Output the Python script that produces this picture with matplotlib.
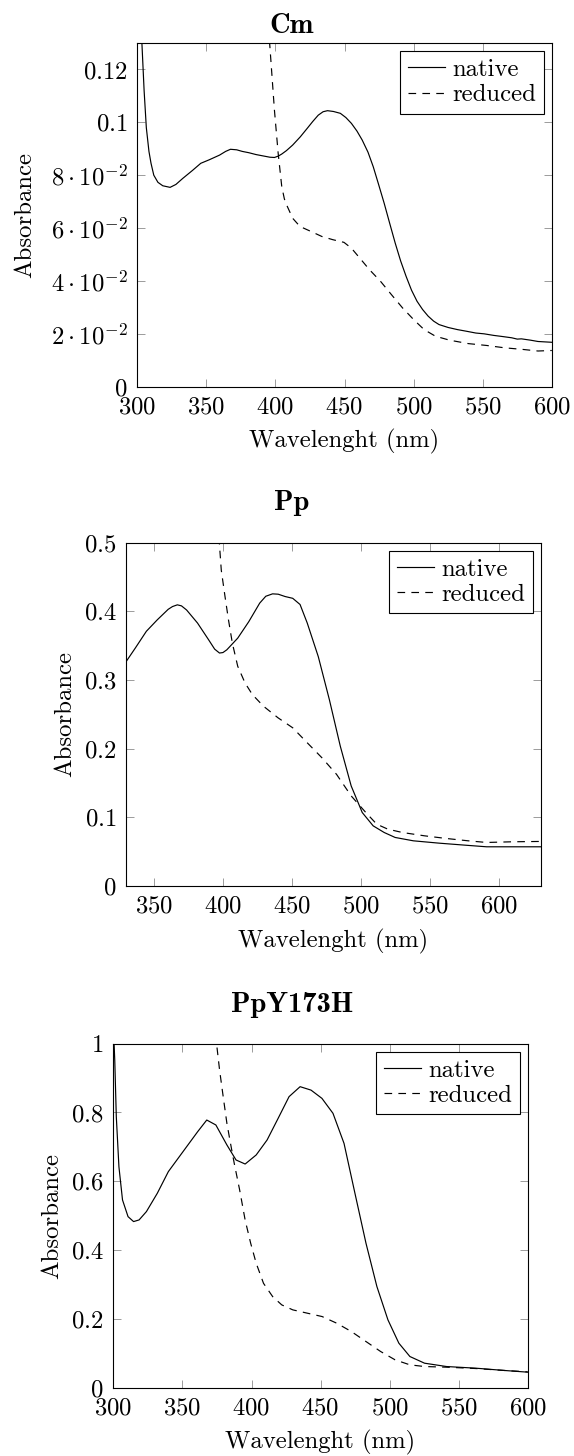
import matplotlib
matplotlib.use("Agg")
import matplotlib.pyplot as plt

plt.rcParams["font.family"] = "cmr10"
plt.rcParams["mathtext.fontset"] = "cm"
plt.rcParams["axes.formatter.use_mathtext"] = True
plt.rcParams["lines.scale_dashes"] = False

# ---- Cm ----
cm_native_wl = [300, 302, 303.4, 305, 306.6, 308.5, 310, 312, 315, 318.5, 323.8, 328, 333,
                340, 346, 352, 359.6, 364, 367.5, 372, 376, 380.8, 386, 391, 396, 399.3,
                402, 404.6, 408, 412.5, 418, 423, 427, 431, 434.5, 437.7, 442, 447, 451,
                455, 459, 462.8, 467, 470.8, 474.5, 478.7, 482.7, 486.7, 490.6, 494.6,
                498.5, 502.5, 506.5, 510.5, 514.5, 518.4, 525, 531.7, 538, 545, 551, 558,
                564, 571, 575, 578, 584.6, 590, 600]
cm_native_abs = [0.200, 0.150, 0.130, 0.112, 0.098, 0.089, 0.0845, 0.0800, 0.0773, 0.0760,
                 0.0754, 0.0765, 0.0788, 0.0818, 0.0845, 0.0858, 0.0876, 0.0890, 0.0898,
                 0.0896, 0.0890, 0.0885, 0.0878, 0.0873, 0.0868, 0.0867, 0.0872, 0.0880,
                 0.0893, 0.0914, 0.0945, 0.0977, 0.1003, 0.1027, 0.1040, 0.1044, 0.1041,
                 0.1034, 0.1018, 0.0996, 0.0967, 0.0933, 0.0887, 0.0832, 0.0768, 0.0694,
                 0.0618, 0.0543, 0.0476, 0.0417, 0.0365, 0.0323, 0.0292, 0.0267, 0.0248,
                 0.0235, 0.0224, 0.0216, 0.0210, 0.0203, 0.0200, 0.0194, 0.0190, 0.0185,
                 0.0180, 0.0181, 0.0176, 0.0171, 0.0168]
cm_reduced_wl = [390, 393, 396.1, 399.3, 402, 404.6, 406.5, 408.6, 412.5, 417.8, 425.8,
                 433.7, 441.6, 449.6, 455, 460, 468, 476, 484, 492, 500, 507.6, 515.8,
                 526, 539.6, 552.8, 566, 579, 590, 600]
cm_reduced_abs = [0.180, 0.150, 0.128, 0.1046, 0.0883, 0.0757, 0.0710, 0.0682, 0.0637,
                  0.0606, 0.0587, 0.0568, 0.0556, 0.0546, 0.0524, 0.0493, 0.0443, 0.0399,
                  0.0348, 0.0298, 0.0254, 0.0216, 0.0191, 0.0176, 0.0163, 0.0156, 0.0147,
                  0.0141, 0.0135, 0.0137]
cm_yticks = [0, 0.02, 0.04, 0.06, 0.08, 0.1, 0.12]
cm_yticklabels = [r"$0$", r"$2\cdot10^{-2}$", r"$4\cdot10^{-2}$", r"$6\cdot10^{-2}$",
                  r"$8\cdot10^{-2}$", r"$0.1$", r"$0.12$"]

# ---- Pp ----
pp_native_wl = [330, 336.6, 344.6, 352.5, 360.4, 363.5, 367, 370, 373.7, 381.6, 389.6,
                394, 397.5, 400, 402.8, 410.7, 418.7, 426.6, 431, 435.9, 440, 445, 450.5,
                455.8, 461, 469, 477, 484.9, 492.8, 500.8, 508.7, 516.7, 524.6, 537.8,
                556.4, 575, 590.8, 609, 630]
pp_native_abs = [0.327, 0.3466, 0.371, 0.3877, 0.403, 0.407, 0.4095, 0.408, 0.402, 0.383,
                 0.3587, 0.345, 0.3393, 0.340, 0.344, 0.361, 0.385, 0.412, 0.422, 0.4255,
                 0.425, 0.4216, 0.419, 0.410, 0.383, 0.334, 0.2715, 0.2038, 0.1457, 0.107,
                 0.0876, 0.0779, 0.0707, 0.0658, 0.0624, 0.0595, 0.0571, 0.0571, 0.0571]
pp_reduced_wl = [394, 397.5, 398.8, 401.5, 404, 406.8, 410.7, 416, 421.3, 429.3, 439.9,
                 450.5, 461, 471.6, 482.2, 492.8, 503.4, 511.3, 519.3, 529.9, 545.8,
                 561.7, 577.5, 590.8, 609.3, 630]
pp_reduced_abs = [0.65, 0.4966, 0.46, 0.4216, 0.3877, 0.3538, 0.320, 0.2957, 0.2788,
                  0.2619, 0.2449, 0.2304, 0.2086, 0.1868, 0.1626, 0.1312, 0.107, 0.090,
                  0.0828, 0.0779, 0.0731, 0.0692, 0.0658, 0.0634, 0.0644, 0.0649]
pp_yticks = [0, 0.1, 0.2, 0.3, 0.4, 0.5]
pp_yticklabels = [r"$0$", r"$0.1$", r"$0.2$", r"$0.3$", r"$0.4$", r"$0.5$"]

# ---- PpY173H ----
y173_native_wl = [300, 301, 302.1, 304, 306.6, 310.6, 314.6, 318.6, 323.9, 331.8, 339.8,
                  350.4, 361, 367.6, 374.2, 382.2, 388.8, 395.4, 403.4, 411.3, 419.3,
                  427.2, 435.2, 443.1, 451, 459, 467, 474.9, 482.9, 490.8, 498.8, 506.7,
                  514.7, 525.3, 541.2, 562.4, 583.6, 600]
y173_native_abs = [1.05, 0.95, 0.788, 0.642, 0.5455, 0.497, 0.4826, 0.4874, 0.5116, 0.565,
                   0.628, 0.686, 0.744, 0.778, 0.7636, 0.7054, 0.6618, 0.650, 0.6764, 0.720,
                   0.783, 0.846, 0.875, 0.865, 0.841, 0.7975, 0.710, 0.565, 0.4196, 0.2936,
                   0.1967, 0.1289, 0.0901, 0.0707, 0.061, 0.0562, 0.0494, 0.0446]
y173_reduced_wl = [372, 374.7, 376.9, 379.5, 382.2, 384.8, 387.5, 391.4, 395.4, 399.4,
                   403.4, 408.7, 415.3, 421.9, 429.9, 440.5, 451.1, 461.7, 472.3, 482.9,
                   493.5, 504, 514.7, 525.3, 541.2, 562.4, 583.6, 600]
y173_reduced_abs = [1.15, 1.0, 0.923, 0.846, 0.768, 0.710, 0.652, 0.575, 0.487, 0.4196,
                    0.3614, 0.303, 0.2645, 0.2403, 0.2258, 0.2161, 0.2064, 0.187, 0.1628,
                    0.1337, 0.1047, 0.0804, 0.0659, 0.061, 0.0591, 0.0552, 0.0494, 0.0455]
y173_yticks = [0, 0.2, 0.4, 0.6, 0.8, 1.0]
y173_yticklabels = [r"$0$", r"$0.2$", r"$0.4$", r"$0.6$", r"$0.8$", r"$1$"]

FS = 17.8
TITLE_FS = 20.5
W, H = 574, 1456
fig = plt.figure(figsize=(W / 100, H / 100), dpi=100)


def panel(rect_px, title, title_base_px, xlim, xticks, ylim, yticks, yticklabels,
          native, reduced, ylabel_x_px):
    left, top, right, bottom = rect_px
    ax = fig.add_axes([left / W, 1 - bottom / H, (right - left) / W, (bottom - top) / H])
    ax.plot(native[0], native[1], color="black", lw=0.85, label="native")
    ax.plot(reduced[0], reduced[1], color="black", lw=0.85, linestyle=(0, (5.5, 4.5)),
            label="reduced")
    ax.set_xlim(*xlim)
    ax.set_ylim(*ylim)
    ax.set_xticks(xticks, [rf"${t}$" for t in xticks])
    ax.set_yticks(yticks, yticklabels)
    ax.tick_params(direction="in", top=True, right=True, length=5.5, width=0.6,
                   color="0.55", labelsize=FS, pad=7)
    for s in ax.spines.values():
        s.set_linewidth(0.8)
        s.set_color("black")
    ax.set_xlabel("Wavelenght (nm)", fontsize=FS)
    ax.xaxis.label.set_va("baseline")
    ax.xaxis.set_label_coords(0.5, -61 / (bottom - top))
    ax.set_ylabel("Absorbance", fontsize=FS)
    ax.yaxis.label.set_va("baseline")
    ax.yaxis.set_label_coords((ylabel_x_px - left) / (right - left), 0.5)
    leg = ax.legend(loc="upper right", fontsize=FS, frameon=True, fancybox=False,
                    framealpha=1, edgecolor="black", borderpad=0.3, labelspacing=0.12,
                    handlelength=1.5, handletextpad=0.3, borderaxespad=0.33)
    leg.get_frame().set_linewidth(0.8)
    fig.text(292 / W, 1 - title_base_px / H, title, ha="center", va="baseline",
             fontsize=TITLE_FS, family="cmb10")
    return ax


panel((137.2, 43.0, 551.8, 386.7), "Cm", 33.3, (300, 600),
      [300, 350, 400, 450, 500, 550, 600], (0, 0.13), cm_yticks, cm_yticklabels,
      (cm_native_wl, cm_native_abs), (cm_reduced_wl, cm_reduced_abs), 31.7)
panel((126.2, 542.7, 540.8, 886.0), "Pp", 510.5, (330, 630),
      [350, 400, 450, 500, 550, 600], (0, 0.5), pp_yticks, pp_yticklabels,
      (pp_native_wl, pp_native_abs), (pp_reduced_wl, pp_reduced_abs), 71.3)
panel((113.4, 1043.7, 527.7, 1387.5), "PpY173H", 1011.7, (300, 600),
      [300, 350, 400, 450, 500, 550, 600], (0, 1.0), y173_yticks, y173_yticklabels,
      (y173_native_wl, y173_native_abs), (y173_reduced_wl, y173_reduced_abs), 58.5)

fig.savefig("out.png", dpi=100)
